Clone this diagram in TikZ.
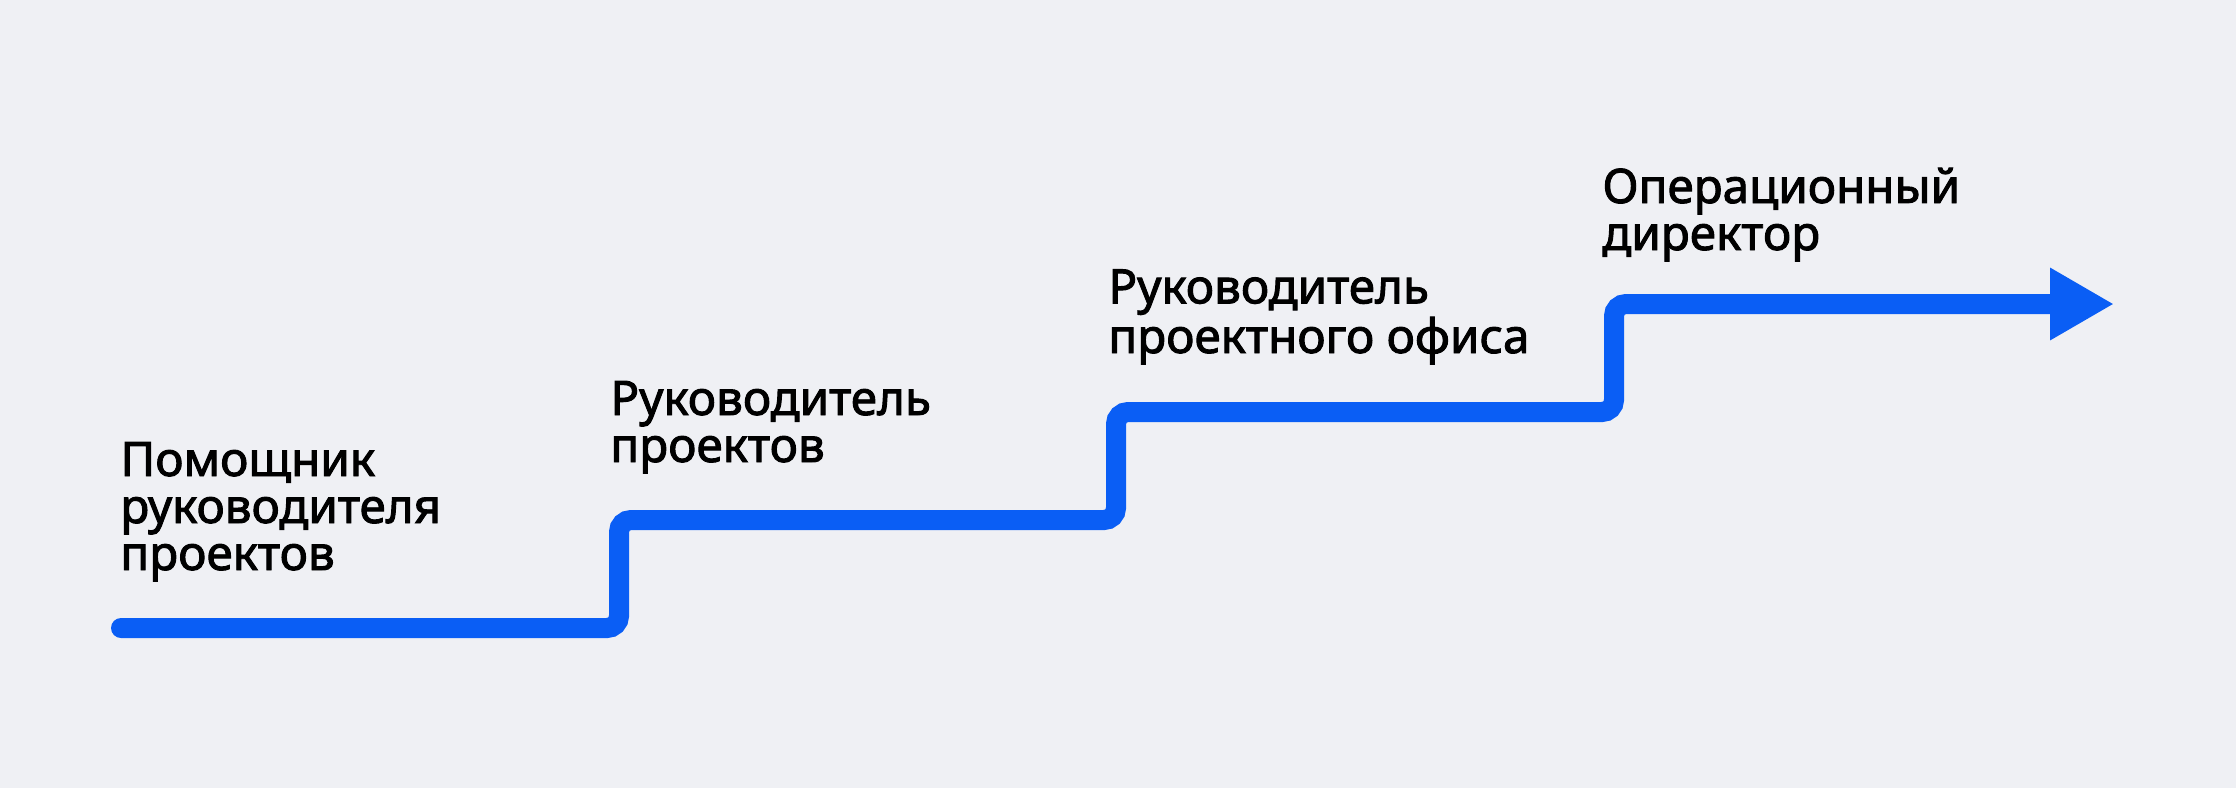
\documentclass[tikz,border=0pt]{standalone}
\usepackage{fontspec}
\setmainfont{Noto Sans}
\newfontfamily\stepfont{Noto Sans}[FakeBold=2]
\usepackage{tikz}
\usetikzlibrary{arrows.meta,positioning}
\definecolor{bgrey}{HTML}{EFF0F4}
\definecolor{stepblue}{HTML}{0A5EF5}
\tikzset{
	label text/.style = {anchor=base west, inner sep=0pt, align=left, text=black,
		font={\stepfont\fontsize{23.8pt}{23.5pt}\selectfont}},
	ladder/.style = {draw=stepblue, line width=10pt, line cap=round,
		rounded corners=6pt, -{Triangle[length=32pt,width=34pt]}}
}
\begin{document}
\begin{tikzpicture}[x=0.5pt,y=-0.5pt]
	\fill[bgrey] (0,0) rectangle (2236,788);
	\useasboundingbox (0,0) rectangle (2236,788);
	% corners of the ladder
	\coordinate (start) at (121,628);
	\coordinate (c1) at (619,520);
	\coordinate (c2) at (1116,412);
	\coordinate (c3) at (1614,304);
	\coordinate (tip) at (2114,304);
	\draw[ladder] (start) -| (c1) -| (c2) -| (c3) -- (tip);
	% labels
	\node[label text] (asst) at (120,570) {Помощник\\руководителя\\проектов};
	\node[label text] (pm) at (610,462) {Руководитель\\проектов};
	\node[label text] (pmo) at (1108,353) {Руководитель\\проектного офиса};
	\node[label text] (coo) at (1602,250) {Операционный\\директор};
\end{tikzpicture}
\end{document}
